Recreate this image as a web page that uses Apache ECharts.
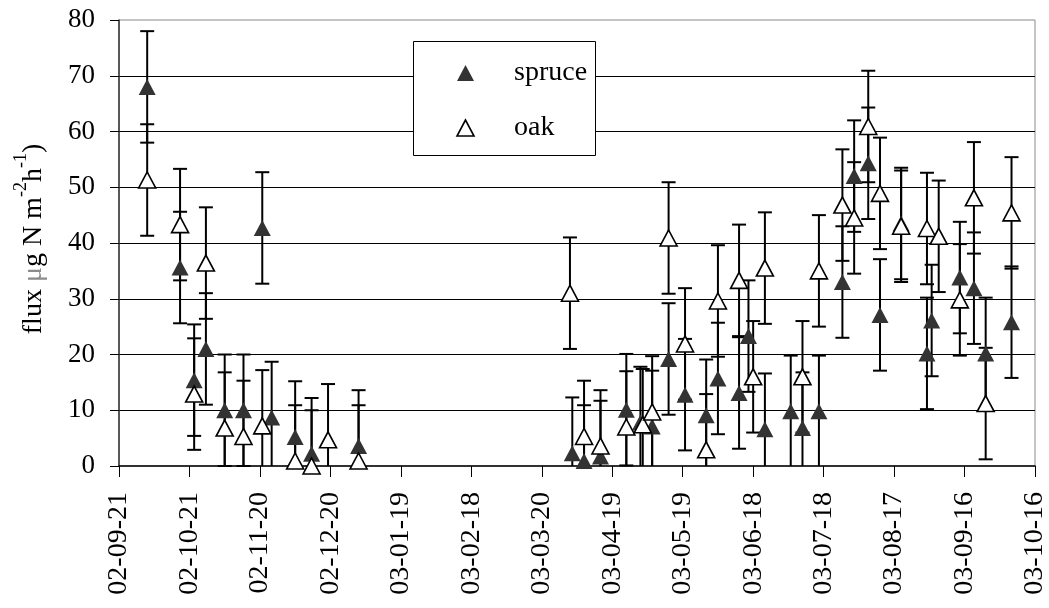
<!DOCTYPE html>
<html>
<head>
<meta charset="utf-8">
<script src="https://cdn.jsdelivr.net/npm/echarts@6/dist/echarts.min.js"></script>
<style>
html,body{margin:0;padding:0;background:#fff;}
#chart{width:1049px;height:608px;}
</style>
</head>
<body>
<div id="chart"></div>
<script>
// ---- data ----
const xTickLabels = ['02-09-21','02-10-21','02-11-20','02-12-20','03-01-19','03-02-18','03-03-20','03-04-19','03-05-19','03-06-18','03-07-18','03-08-17','03-09-16','03-10-16'];
const xStartDate = '2002-09-21';
const xTickStepDays = 30;

const spruceDates = ['2002-10-03','2002-10-17','2002-10-23','2002-10-28','2002-11-05','2002-11-13','2002-11-21','2002-11-25','2002-12-05','2002-12-12','2003-01-01','2003-04-02','2003-04-07','2003-04-14','2003-04-25','2003-05-01','2003-05-06','2003-05-13','2003-05-20','2003-05-29','2003-06-03','2003-06-12','2003-06-16','2003-06-23','2003-07-04','2003-07-09','2003-07-16','2003-07-26','2003-07-31','2003-08-06','2003-08-11','2003-08-20','2003-08-31','2003-09-02','2003-09-14','2003-09-20','2003-09-25','2003-10-06'];
const spruceFlux = [68.0,35.6,15.4,21.0,10.0,10.0,42.7,8.7,5.2,2.2,3.6,2.3,0.9,1.7,10.1,7.8,7.1,19.2,12.8,9.1,15.7,13.1,23.3,6.6,9.8,6.8,9.8,33.0,52.0,54.3,27.1,43.5,20.2,26.1,33.8,31.9,20.2,25.8];
const spruceErr = [10,10,10,10,10,10,10,10,10,10,10,10,10,10,10,10,10,10,10,10,10,10,10,10,10,10,10,10,10,10,10,10,10,10,10,10,10,10];

const oakDates = ['2002-10-03','2002-10-17','2002-10-23','2002-10-28','2002-11-05','2002-11-13','2002-11-21','2002-12-05','2002-12-12','2002-12-19','2003-01-01','2003-04-01','2003-04-07','2003-04-14','2003-04-25','2003-05-02','2003-05-06','2003-05-13','2003-05-20','2003-05-29','2003-06-03','2003-06-12','2003-06-18','2003-06-23','2003-07-09','2003-07-16','2003-07-26','2003-07-31','2003-08-06','2003-08-11','2003-08-20','2003-08-31','2003-09-05','2003-09-14','2003-09-20','2003-09-25','2003-10-06'];
const oakFlux = [51.3,43.3,12.9,36.4,6.8,5.3,7.2,0.9,0.0,4.7,0.9,31.0,5.3,3.6,7.0,7.4,9.7,40.9,21.9,2.9,29.6,33.3,16.0,35.5,16.0,35.0,46.8,44.5,60.9,48.9,43.0,42.6,41.2,29.8,48.1,11.2,45.4];
const oakErr = [10,10,10,10,10,10,10,10,10,10,10,10,10,10,10,10,10,10,10,10,10,10,10,10,10,10,10,10,10,10,10,10,10,10,10,10,10];

// ---- helpers ----
function toUTC(s){ const p = s.split('-').map(Number); return Date.UTC(p[0], p[1]-1, p[2]); }
const START = toUTC(xStartDate);
function dayOf(s){ return Math.round((toUTC(s) - START) / 86400000); }

const spruceData = spruceDates.map((d,i)=>[dayOf(d), spruceFlux[i]]);
const oakData = oakDates.map((d,i)=>[dayOf(d), oakFlux[i]]);
const spruceBars = spruceDates.map((d,i)=>[dayOf(d), spruceFlux[i]-spruceErr[i], spruceFlux[i]+spruceErr[i]]);
const oakBars = oakDates.map((d,i)=>[dayOf(d), oakFlux[i]-oakErr[i], oakFlux[i]+oakErr[i]]);

const FONT = '"Liberation Serif","Times New Roman",serif';

function errRender(params, api){
  const x = api.value(0), lo = api.value(1), hi = api.value(2);
  const cs = params.coordSys;
  const top = cs.y, bottom = cs.y + cs.height;
  const pHi = api.coord([x, hi]);
  const pLo = api.coord([x, lo]);
  const px = pHi[0];
  const y1 = Math.max(pHi[1], top), y2 = Math.min(pLo[1], bottom);
  const half = 7;
  const st = {stroke:'#000', lineWidth:2};
  const children = [{type:'line', shape:{x1:px,y1:y1,x2:px,y2:y2}, style:st}];
  if (pHi[1] >= top && pHi[1] <= bottom) children.push({type:'line', shape:{x1:px-half,y1:pHi[1],x2:px+half,y2:pHi[1]}, style:st});
  if (pLo[1] >= top && pLo[1] <= bottom) children.push({type:'line', shape:{x1:px-half,y1:pLo[1],x2:px+half,y2:pLo[1]}, style:st});
  return {type:'group', children};
}

const chart = echarts.init(document.getElementById('chart'), null, {renderer:'canvas'});
const option = {
  backgroundColor:'#fff',
  animation:false,
  grid:{left:119, top:20, right:12, bottom:142, show:true, borderColor:'#8a8a8a', borderWidth:1, backgroundColor:'transparent'},
  xAxis:{
    type:'value', min:0, max:xTickStepDays*(xTickLabels.length-1), interval:xTickStepDays,
    axisLine:{show:true, onZero:false, lineStyle:{color:'#000', width:1.5}},
    axisTick:{show:true, inside:false, length:11, lineStyle:{color:'#000', width:1}},
    splitLine:{show:false},
    axisLabel:{
      rotate:90, margin:26, fontFamily:FONT, fontSize:28, color:'#000',
      formatter:function(v){ return xTickLabels[Math.round(v/xTickStepDays)] || ''; }
    }
  },
  yAxis:{
    type:'value', min:0, max:80, interval:10,
    axisLine:{show:true, lineStyle:{color:'#333', width:1.5}},
    axisTick:{show:true, inside:false, length:9, lineStyle:{color:'#000', width:1}},
    axisLabel:{margin:24, fontFamily:FONT, fontSize:27, color:'#000'},
    splitLine:{show:true, showMaxLine:false, showMinLine:false, lineStyle:{color:'#000', width:1}}
  },
  series:[
    {name:'spruce-err', type:'custom', renderItem:errRender, data:spruceBars, z:2, silent:true,
     encode:{x:0, y:[1,2]}},
    {name:'oak-err', type:'custom', renderItem:errRender, data:oakBars, z:2, silent:true,
     encode:{x:0, y:[1,2]}},
    {name:'spruce', type:'scatter', data:spruceData, symbol:'triangle', symbolSize:[17,16], z:3,
     itemStyle:{color:'#333333', opacity:1}},
    {name:'oak', type:'scatter', data:oakData, symbol:'triangle', symbolSize:[17,16], z:4,
     itemStyle:{color:'#ffffff', borderColor:'#000', borderWidth:1.6, opacity:1}}
  ],
  graphic:[
    {type:'rect', z:100, shape:{x:413.5, y:41.5, width:182, height:114}, style:{fill:'#fff', stroke:'#000', lineWidth:1}},
    {type:'polygon', z:101, shape:{points:[[465.5,65],[457,81],[474,81]]}, style:{fill:'#333'}},
    {type:'polygon', z:101, shape:{points:[[465.5,120],[457,136],[474,136]]}, style:{fill:'#fff', stroke:'#000', lineWidth:1.6}},
    {type:'text', z:101, x:514, y:73, style:{text:'spruce', font:'28px '+FONT, fill:'#000', verticalAlign:'middle', align:'left'}},
    {type:'text', z:101, x:514, y:128, style:{text:'oak', font:'28px '+FONT, fill:'#000', verticalAlign:'middle', align:'left'}},
    {type:'text', z:101, x:30, y:239, rotation:Math.PI/2,
     style:{
       text:'{n|flux }{mu|μ}{n|g N m}{s|-2}{n|h}{s|-1}{n|)}',
       align:'center', verticalAlign:'middle',
       rich:{
         n:{fontFamily:FONT, fontSize:28, fill:'#000', lineHeight:36, verticalAlign:'bottom'},
         mu:{fontFamily:FONT, fontSize:28, fill:'#8c8c8c', lineHeight:36, verticalAlign:'bottom'},
         s:{fontFamily:FONT, fontSize:18, fill:'#000', lineHeight:36, verticalAlign:'top'}
       }
     }}
  ]
};
chart.setOption(option);
</script>
</body>
</html>
